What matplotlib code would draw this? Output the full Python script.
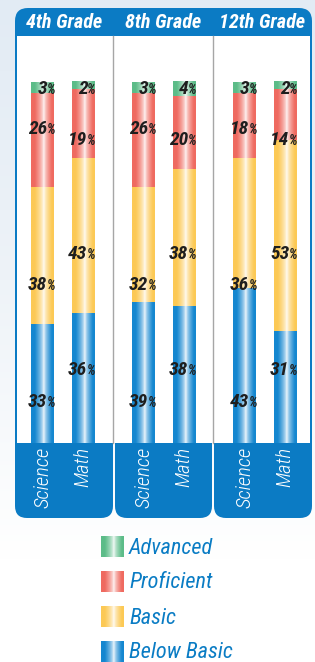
import numpy as np
import matplotlib.pyplot as plt
from matplotlib.patches import FancyBboxPatch, Rectangle
from matplotlib.colors import LinearSegmentedColormap

# Achievement levels by grade and subject (percent of students)
grades = ['4th Grade', '8th Grade', '12th Grade']
subjects = ['Science', 'Math']
levels = ['Below Basic', 'Basic', 'Proficient', 'Advanced']
below_basic = [33, 36, 39, 38, 43, 31]
basic = [38, 43, 32, 38, 36, 53]
proficient = [26, 19, 26, 20, 18, 14]
advanced = [3, 2, 3, 4, 3, 2]

# layout (not data): label rows for each subject, in percent units
label_rows = {'Science': [11.9, 44.3, 87.5, 98.6],
              'Math': [20.8, 52.9, 84.5, 98.6]}

level_colors = {'Below Basic': '#1587d0', 'Basic': '#fcc955',
                'Proficient': '#ef6a60', 'Advanced': '#5cbc88'}
blue = '#0b7bc4'
plt.rcParams['font.family'] = ['Roboto Condensed', 'DejaVu Sans']

W, H = 315, 662
fig = plt.figure(figsize=(W / 100, H / 100), dpi=100)
fig.patch.set_facecolor('white')

# background axes in pixel units
bg = fig.add_axes([0, 0, 1, 1])
bg.set_xlim(0, W)
bg.set_ylim(H, 0)
bg.axis('off')

sky = np.linspace(0, 1, 200).reshape(-1, 1)
sky_cmap = LinearSegmentedColormap.from_list('sky', ['#e2ebf4', '#eef3f8', 'white'])
bg.imshow(sky, extent=(0, W, 560, 0), cmap=sky_cmap, aspect='auto', zorder=0)


def grad_cmap(c):
    return LinearSegmentedColormap.from_list('g', ['white', c])


# horizontal shading of the bars: saturated edges, white highlight
t = np.linspace(0, 1, 64)
hl = 0.56
dist = np.where(t < hl, (hl - t) / 0.40, (t - hl) / 0.36)
profile = (np.clip(dist, 0, 1) ** 0.6).reshape(1, -1)

left, right, top, head_bot, area_bot, tab_bot = 15, 312, 8, 36, 443, 518
group_w = (right - left) / 3

# frame with rounded header
bg.add_patch(FancyBboxPatch((left, top), right - left, area_bot - top,
                            boxstyle='round,pad=0,rounding_size=13',
                            fc=blue, ec='none', zorder=1))
# bottom tabs
tab_edges = [(left, 113), (115, 212), (214, right)]
for x0, x1 in tab_edges:
    bg.add_patch(FancyBboxPatch((x0, area_bot - 30), x1 - x0, tab_bot - area_bot + 30,
                                boxstyle='round,pad=0,rounding_size=12',
                                fc=blue, ec='none', zorder=1))
bg.add_patch(Rectangle((left + 2, head_bot), right - left - 4, area_bot - head_bot,
                       fc='white', ec='none', zorder=2))
for xd in [113, 212.5]:
    bg.plot([xd, xd], [head_bot, area_bot], color='#a6a6a6', lw=1, zorder=3)

for g, name in enumerate(grades):
    bg.text(left + group_w * (g + 0.5), 23, name, color='white', fontsize=14.5,
            fontweight='bold', fontstyle='italic', ha='center', va='center', zorder=4)

# bars axes
ax = fig.add_axes([left / W, 1 - area_bot / H, (right - left) / W, (area_bot - head_bot) / H])
ax.patch.set_alpha(0)
ax.axis('off')

offsets = {'Science': 0.28, 'Math': 0.685}
width = 0.227
xs = [g + offsets[s] + 0.02 * g for g in range(len(grades)) for s in subjects]
subj_of = [s for g in range(len(grades)) for s in subjects]

series = [below_basic, basic, proficient, advanced]
bottoms = np.zeros(len(xs))
for lvl, vals in zip(levels, series):
    rects = ax.bar(xs, vals, width, bottom=bottoms, color=level_colors[lvl], lw=0)
    for r in rects:
        ax.imshow(profile, extent=(r.get_x(), r.get_x() + r.get_width(),
                                   r.get_y(), r.get_y() + r.get_height()),
                  cmap=grad_cmap(level_colors[lvl]), vmin=0, vmax=1,
                  aspect='auto', interpolation='bilinear', zorder=2)
    bottoms += np.array(vals)

for i, x in enumerate(xs):
    for k, vals in enumerate(series):
        y = label_rows[subj_of[i]][k] - 1.9
        ax.annotate(str(vals[i]), (x, y), xytext=(3.2, 0), textcoords='offset points',
                    ha='right', va='baseline', fontsize=14, fontweight='bold',
                    fontstyle='italic', color='#1e1e1e', zorder=5)
        ax.annotate('%', (x, y), xytext=(3.0, 0), textcoords='offset points',
                    ha='left', va='baseline', fontsize=10, fontweight='bold',
                    fontstyle='italic', color='#1e1e1e', zorder=5)

ax.set_xlim(0, 3)
ax.set_ylim(0, (area_bot - head_bot) / 3.61)

# subject labels in tabs
for i, x in enumerate(xs):
    px = left + x * group_w
    bg.text(px, 447, subj_of[i], rotation=90, color='white', fontsize=15,
            fontstyle='italic', fontweight='light', ha='center', va='top', zorder=4)

# legend
for k, lvl in enumerate(levels[::-1]):
    yc = 547 + 35 * k
    bg.imshow(profile, extent=(101, 124, yc + 10.5, yc - 10.5),
              cmap=grad_cmap(level_colors[lvl]), vmin=0, vmax=1,
              aspect='auto', interpolation='bilinear', zorder=4)
    bg.text(129, yc + 1, lvl, color='#0a7cc4', fontsize=16, fontstyle='italic',
            ha='left', va='center', zorder=4)

bg.set_xlim(0, W)
bg.set_ylim(H, 0)
fig.savefig('out.png', dpi=100)
